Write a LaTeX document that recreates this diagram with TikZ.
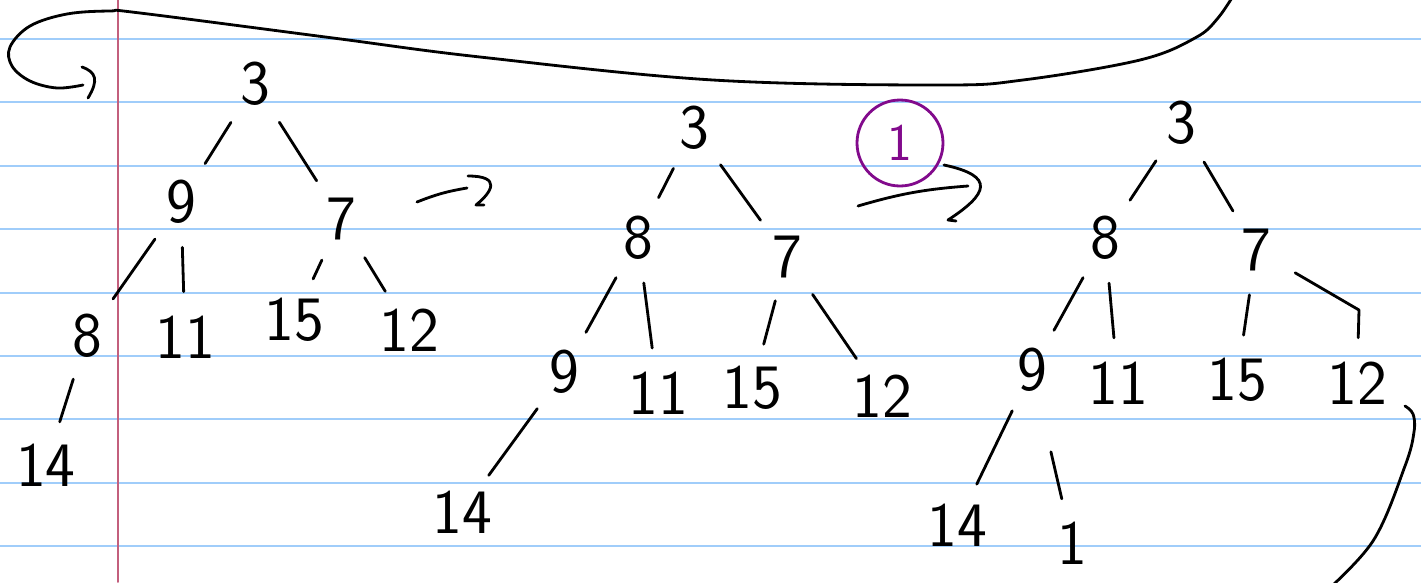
\documentclass[tikz,border=0pt]{standalone}
\usepackage{fontspec}
\usepackage{tikz}
\definecolor{ruled}{RGB}{160,205,250}
\definecolor{margin}{RGB}{195,95,125}
\definecolor{pen}{RGB}{130,10,140}

\begin{document}
\begin{tikzpicture}[x=0.02cm, y=-0.02cm, line cap=round, line join=round,
	digit/.style={circle, inner sep=0pt, minimum size=1.8cm, font=\sffamily\fontsize{36}{36}\selectfont},
	link/.style={line width=1.6pt}]
	\clip (0,0) rectangle (1421,582);
	\fill [white] (0,0) rectangle (1421,582);
	% paper
	\foreach \k in {0,...,8}
		\draw [ruled, line width=1.1pt] (0,39+63.4*\k) -- (1421,39+63.4*\k);
	\draw [margin, line width=1.1pt] (118,0) -- (118,582);
	% first heap
	\node [digit] (p3) at (255,84) {3};
	\node [digit] (p9) at (181,202) {9};
	\node [digit] (p7) at (341,219) {7};
	\node [digit] (p8) at (87,336) {8};
	\node [digit] (p11) at (185,337) {11};
	\node [digit] (p15) at (294,320) {15};
	\node [digit] (p12) at (409,330) {12};
	\node [digit] (p14) at (46,465) {14};
	\draw [link] (p3) -- (p9);
	\draw [link] (p3) -- (p7);
	\draw [link] (p9) -- (p8);
	\draw [link] (p9) -- (p11);
	\draw [link] (p7) -- (p15);
	\draw [link] (p7) -- (p12);
	\draw [link] (p8) -- (p14);
	% second heap
	\node [digit] (q3) at (694,128) {3};
	\node [digit] (q8) at (638,238) {8};
	\node [digit] (q7) at (787,257) {7};
	\node [digit] (q9) at (564,372) {9};
	\node [digit] (q11) at (658,393) {11};
	\node [digit] (q15) at (752,388) {15};
	\node [digit] (q12) at (882,396) {12};
	\node [digit] (q14) at (462,512) {14};
	\draw [link] (q3) -- (q8);
	\draw [link] (q3) -- (q7);
	\draw [link] (q8) -- (q9);
	\draw [link] (q8) -- (q11);
	\draw [link] (q7) -- (q15);
	\draw [link] (q7) -- (q12);
	\draw [link] (q9) -- (q14);
	% third heap
	\node [digit] (r3) at (1181,123) {3};
	\node [digit] (r8) at (1105,238) {8};
	\node [digit] (r7) at (1256,250) {7};
	\node [digit] (r9) at (1032,370) {9};
	\node [digit] (r11) at (1118,383) {11};
	\node [digit] (r15) at (1237,380) {15};
	\node [digit] (r12) at (1357,383) {12};
	\node [digit] (r14) at (957,525) {14};
	\node [digit] (r1) at (1072,543) {1};
	\coordinate (rbend) at (1359,310);
	\draw [link] (r3) -- (r8);
	\draw [link] (r3) -- (r7);
	\draw [link] (r8) -- (r9);
	\draw [link] (r8) -- (r11);
	\draw [link] (r7) -- (r15);
	\draw [link] (r7) -- (rbend) -- (r12);
	\draw [link] (r9) -- (r14);
	\draw [link, shorten <=22pt] (r9) -- (r1);
	% arrows between the heaps
	\coordinate (s1) at (417,202);
	\coordinate (e1) at (467,188);
	\draw [link] (s1) to [bend left=6] (e1);
	\draw [link] (468,176) .. controls (502,176) and (492,192) .. (476,205) -- (484,205);
	\node [digit, draw=pen, line width=1.6pt, text=pen, minimum size=1.72cm,
		font=\sffamily\fontsize{30}{30}\selectfont] (mark) at (900,143) {1};
	\coordinate (s2) at (858,206);
	\coordinate (e2) at (968,186);
	\draw [link] (s2) to [bend left=6] (e2);
	\draw [link] (944,165) .. controls (996,176) and (988,194) .. (948,220) -- (956,221);
	% long loop back to the start
	\coordinate (loopA) at (1238,-12);
	\coordinate (loopB) at (83,85);
	\draw [link] plot [smooth, tension=0.6] coordinates {(loopA) (1218,18) (1195,38) (1140,60) (1023,80) (940,85) (713,80) (480,57) (333,38) (140,13) (110,11) (67,14) (30,26) (10,47) (12,66) (30,81) (57,88) (loopB)};
	\draw [link] (82,67) .. controls (96,72) and (99,80) .. (88,98);
	\coordinate (hookA) at (1405,406);
	\coordinate (hookB) at (1322,595);
	\draw [link] plot [smooth, tension=0.6] coordinates {(hookA) (1413,414) (1414,432) (1405,466) (1373,541) (hookB)};
\end{tikzpicture}
\end{document}
